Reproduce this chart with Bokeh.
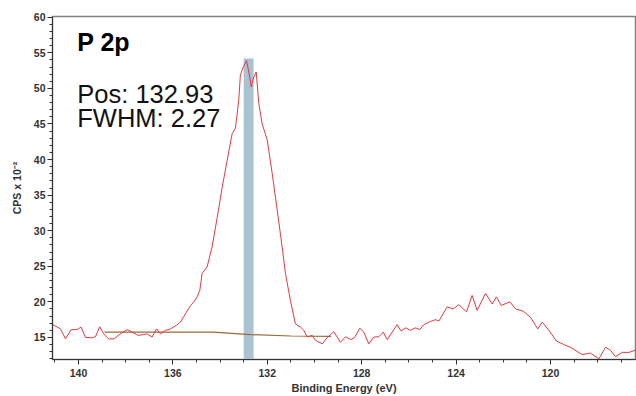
from bokeh.plotting import figure
from bokeh.models import Range1d, FixedTicker, Label
from bokeh.embed import file_html
from bokeh.resources import INLINE

# Binding energy (eV) and counts (CPS x 10^-2) of the P 2p spectrum
energy = [141.19, 140.76, 140.55, 140.31, 140.06, 139.89, 139.70, 139.42, 139.28, 139.10,
          138.93, 138.72, 138.50, 138.22, 137.94, 137.72, 137.49, 137.23, 137.09, 136.88,
          136.69, 136.53, 136.31, 136.10, 135.85, 135.68, 135.47, 135.25, 135.11, 134.97,
          134.86, 134.76, 134.55, 134.34, 134.12, 133.91, 133.70, 133.49, 133.35, 133.21,
          133.14, 133.02, 132.88, 132.78, 132.68, 132.57, 132.47, 132.36, 132.22, 132.00,
          131.79, 131.58, 131.37, 131.23, 131.02, 130.81, 130.59, 130.45, 130.31, 130.10,
          129.96, 129.67, 129.47, 129.18, 128.90, 128.69, 128.47, 128.31, 128.08, 127.91,
          127.70, 127.49, 127.27, 127.09, 126.92, 126.71, 126.50, 126.33, 126.14, 125.93,
          125.72, 125.54, 125.37, 125.08, 124.87, 124.73, 124.59, 124.38, 124.13, 123.89,
          123.56, 123.32, 123.11, 122.75, 122.47, 122.29, 122.09, 121.72, 121.48, 121.16,
          120.85, 120.54, 120.35, 120.07, 119.75, 119.44, 119.15, 118.66, 118.31, 117.95,
          117.67, 117.46, 117.25, 116.96, 116.68, 116.40]
counts = [17.0, 16.2, 14.8, 16.1, 16.1, 16.45, 15.0, 14.95, 15.1, 16.5,
          15.5, 14.8, 14.8, 15.5, 16.1, 15.75, 15.3, 15.4, 15.5, 15.05,
          16.2, 15.5, 16.0, 16.2, 16.7, 17.15, 18.3, 19.5, 20.0, 20.7,
          21.6, 24.0, 24.9, 27.7, 31.9, 36.1, 39.9, 43.6, 44.4, 48.3,
          51.85, 53.0, 53.9, 52.3, 50.2, 51.6, 52.3, 47.9, 45.05, 42.7,
          38.0, 32.9, 27.7, 24.0, 20.2, 16.9, 16.45, 16.0, 15.05, 15.3,
          14.6, 14.1, 14.95, 15.8, 14.3, 15.1, 14.7, 14.95, 16.3, 15.75,
          14.1, 15.05, 15.1, 15.75, 14.7, 15.75, 16.8, 15.9, 16.35, 16.0,
          16.35, 16.1, 16.8, 17.25, 17.5, 17.3, 18.1, 19.3, 19.0, 19.6,
          18.6, 20.9, 18.8, 21.2, 19.7, 20.7, 19.5, 20.0, 19.0, 18.7,
          17.85, 16.2, 17.15, 16.0, 14.5, 14.0, 13.6, 12.6, 12.8, 12.0,
          13.6, 13.2, 12.3, 12.9, 12.9, 13.2]

# Background (Shirley-like) line
bg_energy = [138.9, 134.3, 132.7, 131.0, 129.3]
bg_counts = [15.75, 15.75, 15.4, 15.2, 15.15]

# Peak position marker band
band_left = [133.00]
band_right = [132.58]
band_top = [54.2]

x_major = [140, 136, 132, 128, 124, 120, 116]
x_minor = list(range(116, 142))
y_major = [15, 20, 25, 30, 35, 40, 45, 50, 55, 60]
y_minor = list(range(12, 61))

title_text = "P 2p"
info_lines = ["Pos: 132.93", "FWHM: 2.27"]

X0, X1 = 141.1, 116.4
Y0, Y1 = 11.9, 60.1

p = figure(width=636, height=396, x_range=Range1d(X0, X1), y_range=Range1d(Y0, Y1),
           output_backend="svg", toolbar_location=None,
           min_border_left=52, min_border_right=1, min_border_top=16, min_border_bottom=37)

p.xgrid.visible = False
p.ygrid.visible = False
p.outline_line_color = "#808080"
p.outline_line_width = 1.5
p.background_fill_color = "white"
p.border_fill_color = "white"

FONT = "Liberation Sans"

p.xaxis.ticker = FixedTicker(ticks=x_major, minor_ticks=x_minor)
p.yaxis.ticker = FixedTicker(ticks=y_major, minor_ticks=y_minor)
for ax in (p.xaxis[0], p.yaxis[0]):
    ax.major_tick_in = 0
    ax.major_tick_out = 5
    ax.minor_tick_in = 0
    ax.minor_tick_out = 3
    ax.axis_line_color = "#333333"
    ax.major_tick_line_color = "#333333"
    ax.minor_tick_line_color = "#333333"
    ax.major_label_text_font = FONT
    ax.major_label_text_font_style = "bold"
    ax.major_label_text_font_size = "10.5px"
    ax.major_label_text_color = "#333333"
    ax.axis_label_text_font = FONT
    ax.axis_label_text_font_style = "bold"
    ax.axis_label_text_color = "#333333"

p.xaxis.axis_label = "Binding Energy (eV)"
p.xaxis.axis_label_text_font_size = "11px"
p.xaxis.major_label_standoff = 4
p.xaxis.axis_label_standoff = 2

p.yaxis.axis_label = "CPS x 10\u207b\u00b2"
p.yaxis.axis_label_text_font_size = "10.5px"
p.yaxis.major_label_standoff = 2
p.yaxis.axis_label_standoff = 8

p.quad(left=band_left, right=band_right, bottom=[Y0], top=band_top,
       fill_color="#a9c3d3", line_color=None)

p.line(bg_energy, bg_counts, line_color="#9a6a3a", line_width=1.2)
p.line(energy, counts, line_color="#e23a40", line_width=1)

p.add_layout(Label(x=140.05, y=54.5, text=title_text, text_font=FONT,
                   text_font_style="bold", text_font_size="25px", text_color="black"))
p.add_layout(Label(x=140.05, y=47.3, text=info_lines[0], text_font=FONT,
                   text_font_size="25.5px", text_color="#111111"))
p.add_layout(Label(x=140.05, y=43.9, text=info_lines[1], text_font=FONT,
                   text_font_size="25.5px", text_color="#111111"))

open("out.html", "w").write(file_html(p, INLINE))
